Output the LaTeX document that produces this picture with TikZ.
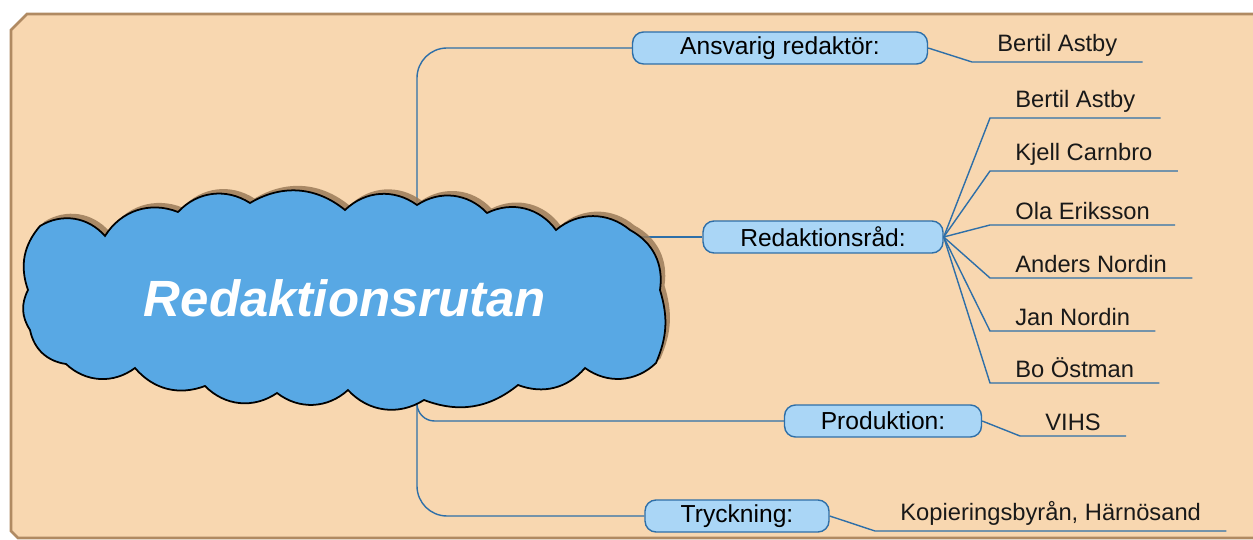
\documentclass[tikz,border=0pt]{standalone}
\usepackage{fontspec}
\setmainfont{Liberation Sans}
\usetikzlibrary{shadows, positioning}
\definecolor{sand}{HTML}{F8D7B0}
\definecolor{sandedge}{HTML}{B08A62}
\definecolor{skyblue}{HTML}{58A8E4}
\definecolor{paleblue}{HTML}{AAD6F6}
\definecolor{lineblue}{HTML}{2E6FA8}
\definecolor{shadowbrown}{HTML}{9C7C5A}
\pgfdeclarelayer{back}
\pgfdeclarelayer{wires}
\pgfsetlayers{back,wires,main}
\tikzset{
  % connector style
  conn/.style={
    draw=lineblue
    , line width=0.8pt
  },
}
\tikzset{
  % topic box style
  topic/.style={
    draw=lineblue
    , fill=paleblue
    , line width=0.8pt
    , rounded corners=0.22cm
    , minimum height=0.64cm
    , inner sep=0pt
    , text centered
    , font=\fontsize{14}{16}\selectfont
  },
  % name on a line
  leaf/.style={
    inner xsep=0.5cm
    , inner ysep=3pt
    , text=black!90
    , font=\fontsize{13.5}{16}\selectfont
  },
  % cloud outline
  puffy/.style={
    draw=black
    , line width=1pt
    , fill=skyblue
    , drop shadow={shadow xshift=0.9mm, shadow yshift=0.9mm, fill=shadowbrown, opacity=0.85}
  },
}

\begin{document}
\begin{tikzpicture}[x=0.02cm, y=-0.02cm]
      \useasboundingbox (0,0) rectangle (1253,540);
      \begin{pgfonlayer}{back}
        \draw[sandedge, fill=sand, line width=1.6pt]
          (11,30) -- (27,14) -- (1270,14) -- (1270,538) -- (18,538) -- (11,531) -- cycle;
      \end{pgfonlayer}

      % the cloud
      \draw[puffy] (40,226) to[bend left=40] (105,236) to[bend left=40] (178,212)
        to[bend left=40] (250,203) to[bend left=35] (345,210) to[bend left=40] (417,205)
        to[bend left=40] (487,213) to[bend left=40] (556,230) to[bend left=40] (630,230)
        to[bend left=35] (660,290) to[bend left=20] (656,363) to[bend left=40] (585,368)
        to[bend left=35] (518,385) to[bend left=30] (424,400) to[bend left=40] (348,390)
        to[bend left=40] (277,393) to[bend left=40] (205,386) to[bend left=35] (135,368)
        to[bend left=40] (66,364) to[bend left=35] (30,330) to[bend left=30] (28,290)
        to[bend left=30] (40,226) -- cycle;
      \node[text=white, font=\fontsize{29}{34}\selectfont\bfseries\itshape] (rut) at (345,298) {Redaktionsrutan};

      \node[topic, minimum width=5.9cm] (ans) at (780,48) {Ansvarig redaktör:};
      \node[topic, minimum width=4.8cm] (rad) at (823,237) {Redaktionsråd:};
      \node[topic, minimum width=3.94cm] (prod) at (883,421) {Produktion:};
      \node[topic, minimum width=3.68cm] (tryck) at (737,516) {Tryckning:};

      \node[leaf, anchor=south west] (ansA) at (972,62) {Bertil Astby};
      \node[leaf, anchor=south west] (radA) at (990,118) {Bertil Astby};
      \node[leaf, anchor=south west] (radB) at (990,171) {Kjell Carnbro};
      \node[leaf, anchor=south west] (radC) at (990,225) {Ola Eriksson};
      \node[leaf, anchor=south west] (radD) at (990,278) {Anders Nordin};
      \node[leaf, anchor=south west] (radE) at (990,331) {Jan Nordin};
      \node[leaf, anchor=south west] (radF) at (990,383) {Bo Östman};
      \node[leaf, anchor=south west] (prodA) at (1020,436) {VIHS};
      \node[leaf, anchor=south west] (tryckA) at (875,531) {Kopieringsbyrån, Härnösand};

      \begin{pgfonlayer}{wires}
        \coordinate (hub) at (417,298);
        \draw[conn, rounded corners=0.6cm] (hub) |- (ans.west);
        \draw[conn] (hub |- rad.west) -- (rad.west);
        \draw[conn, rounded corners=0.35cm] (hub) |- (prod.west);
        \draw[conn, rounded corners=0.6cm] (hub) |- (tryck.west);

        \draw[conn] (ans.east) -- (ansA.south west) -- (ansA.south east);
        \foreach \who in {radA, radB, radC, radD, radE, radF}
          \draw[conn] (rad.east) -- (\who.south west) -- (\who.south east);
        \draw[conn] (prod.east) -- (prodA.south west) -- (prodA.south east);
        \draw[conn] (tryck.east) -- (tryckA.south west) -- (tryckA.south east);
      \end{pgfonlayer}
\end{tikzpicture}
\end{document}
